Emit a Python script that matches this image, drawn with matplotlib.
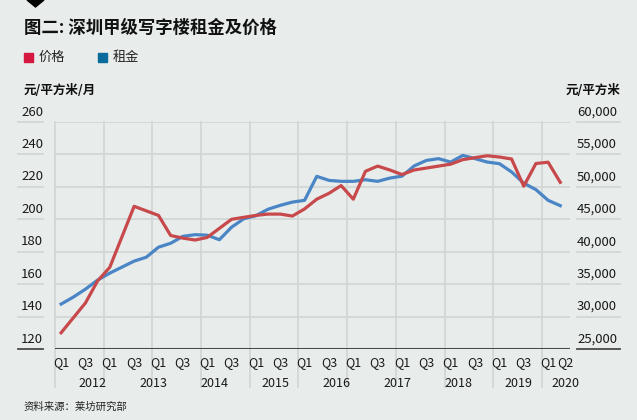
import matplotlib.pyplot as plt
from matplotlib.patches import Rectangle, Polygon
import matplotlib.transforms as mtransforms

plt.rcParams['font.family'] = ['Noto Sans CJK SC', 'DejaVu Sans']

# 租金 (元/平方米/月), left axis
rent = [147.7, 152.0, 156.9, 162.5, 166.8, 170.5, 174.2, 176.6, 182.8, 185.2,
        189.5, 190.5, 190.2, 187.4, 195.1, 200.3, 202.2, 206.2, 208.6, 210.6,
        211.7, 226.5, 224.0, 223.4, 223.4, 224.4, 223.4, 225.4, 226.6, 232.9,
        236.3, 237.4, 235.3, 239.4, 237.4, 235.3, 234.3, 229.2, 222.3, 218.3,
        211.7, 208.4]
# 价格 (元/平方米), right axis
price = [27500, 29800, 32100, 35500, 37600, 42300, 47000, 46300, 45600, 42500,
         42100, 41800, 42200, 43600, 45000, 45300, 45600, 45800, 45800, 45500,
         46600, 48100, 49000, 50200, 48100, 52400, 53200, 52600, 51900, 52600,
         52900, 53200, 53500, 54200, 54500, 54800, 54600, 54300, 50100, 53600,
         53800, 50700]
q_labels = ['Q1', 'Q3'] * 10 + ['Q1', 'Q2']
years = ['2012', '2013', '2014', '2015', '2016', '2017', '2018', '2019', '2020']
left_ticks = [120, 140, 160, 180, 200, 220, 240, 260]
right_ticks = [25000, 30000, 35000, 40000, 45000, 50000, 55000, 60000]

W, H = 637, 420
bg = '#e8eceb'
grid_c = '#d2d6d5'
red = '#c8494b'
blue = '#4a85c6'


def fx(px):
    return px / W


def fy(py):
    return 1 - py / H


fig = plt.figure(figsize=(W / 100, H / 100), dpi=100, facecolor=bg)
ax = fig.add_axes([fx(55), fy(349), fx(570) - fx(55), fy(122) - fy(349)])
ax.set_facecolor(bg)
ax2 = ax.twinx()

x = list(range(len(rent)))
ax.plot(x, rent, color=blue, lw=2.3, zorder=3)
ax2.plot(x, price, color=red, lw=2.3, zorder=3)

ax.set_xlim(-0.5, 41.8)
ax.set_ylim(120, 260)
ax2.set_ylim(25000, 60000)

for a in (ax, ax2):
    for s in a.spines.values():
        s.set_visible(False)
    a.set_xticks([])
    a.set_yticks([])

# horizontal grid
for v in left_ticks[1:]:
    ax.axhline(v, color=grid_c, lw=1.3, zorder=1)
ax.axhline(120, color='#4a4a4a', lw=1.5, zorder=4)

# vertical grid, extended below the axis
trans = mtransforms.blended_transform_factory(ax.transData, ax.transAxes)
for k in range(11):
    xv = -0.5 + 4 * k
    ax.plot([xv, xv], [-0.167, 1], color=grid_c, lw=1.3, transform=trans,
            clip_on=False, zorder=1)

# tick labels on both sides, sitting on short underlines
tl = mtransforms.blended_transform_factory(fig.transFigure, ax.transData)
tl_txt = mtransforms.offset_copy(tl, fig=fig, x=0, y=2.5, units='points')
for v in left_ticks:
    fig.text(fx(21), v, str(v), transform=tl_txt,
             fontsize=9.5, color='#1a1a1a', ha='left', va='bottom')
    lc = '#4a4a4a' if v == 120 else grid_c
    fig.add_artist(plt.Line2D([fx(18), fx(43)], [v, v], transform=tl,
                              color=lc, lw=1.3))

tr = mtransforms.blended_transform_factory(fig.transFigure, ax2.transData)
tr_txt = mtransforms.offset_copy(tr, fig=fig, x=0, y=2.5, units='points')
for v in right_ticks:
    fig.text(fx(577), v, '{:,}'.format(v), transform=tr_txt,
             fontsize=9.5, color='#1a1a1a', ha='left', va='bottom')
    lc = '#4a4a4a' if v == 25000 else grid_c
    fig.add_artist(plt.Line2D([fx(577), fx(620)], [v, v], transform=tr,
                              color=lc, lw=1.3))

# x labels
for i, lab in enumerate(q_labels):
    xv = 2 * i if i < 21 else 41.4
    ax.text(xv, -0.06, lab, transform=trans, fontsize=9, color='#1a1a1a',
            ha='center', va='center')
for k, yr in enumerate(years):
    xv = 2.6 + 5 * k if k < 8 else 41.4
    ax.text(xv, -0.15, yr, transform=trans, fontsize=9, color='#1a1a1a',
            ha='center', va='center')

# title, marker, legend, units, source
fig.add_artist(Polygon([[fx(27), fy(0)], [fx(44), fy(0)], [fx(35.5), fy(7)]],
                       closed=True, transform=fig.transFigure, color='black'))
fig.text(fx(24), fy(28), '图二: 深圳甲级写字楼租金及价格', fontsize=12.5,
         fontweight='bold', color='#111111', ha='left', va='center')
fig.add_artist(Rectangle((fx(24), fy(62)), fx(9), fy(0) - fy(9),
                         transform=fig.transFigure, color='#d6173f'))
fig.text(fx(39), fy(57), '价格', fontsize=9.5, color='#222222', ha='left', va='center')
fig.add_artist(Rectangle((fx(98), fy(62)), fx(9), fy(0) - fy(9),
                         transform=fig.transFigure, color='#0b6a9c'))
fig.text(fx(113), fy(57), '租金', fontsize=9.5, color='#222222', ha='left', va='center')
fig.text(fx(24), fy(90), '元/平方米/月', fontsize=9, fontweight='bold',
         color='#111111', ha='left', va='center')
fig.text(fx(620), fy(90), '元/平方米', fontsize=9, fontweight='bold',
         color='#111111', ha='right', va='center')
fig.text(fx(24), fy(407), '资料来源：莱坊研究部', fontsize=7.5, color='#222222',
         ha='left', va='center')

fig.savefig('out.png', dpi=100, facecolor=bg)
